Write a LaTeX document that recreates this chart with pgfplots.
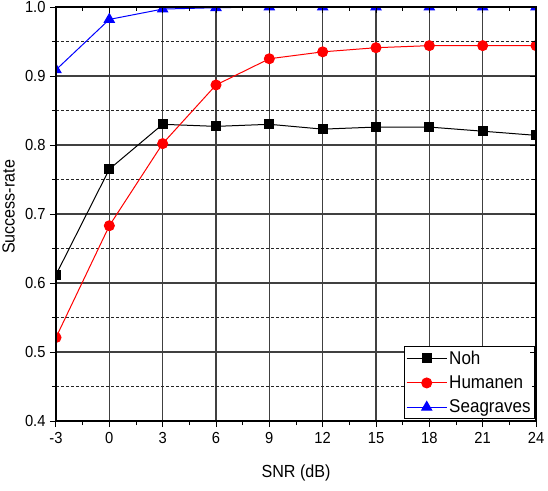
\documentclass[border=0pt]{standalone}
\usepackage{fontspec}
\setmainfont{Liberation Sans}
\newfontfamily\narrowsans{Liberation Sans}[FakeStretch=0.92]
\usepackage{pgfplots}
\pgfplotsset{compat=1.18}

% Success rate against SNR for the three detectors
\newcommand{\tickfont}{\narrowsans\fontsize{16}{18}\selectfont}
\newcommand{\labelfont}{\narrowsans\fontsize{17.5}{20}\selectfont}
\newcommand{\legfont}{\narrowsans\fontsize{18.5}{21}\selectfont}

\pgfplotsset{
  frame/.style={
    scale only axis, width=480pt, height=414pt,
    xmin=-3, xmax=24, ymin=0.4, ymax=1.0,
    xtick={-3,0,3,6,9,12,15,18,21,24},
    ytick={0.4,0.5,0.6,0.7,0.8,0.9,1.0},
    minor x tick num=1, minor y tick num=1,
    axis line style={black, line width=1.3pt},
    major tick style={black, line width=1pt},
    minor tick style={black, line width=1pt},
    major tick length=6pt, minor tick length=4pt,
  }
}

\begin{document}
\begin{tikzpicture}
\begin{axis}[
  frame,
  name=main,
  tick pos=left, tick align=outside,
  xmajorgrids=true, ymajorgrids=true, yminorgrids=true,
  major grid style={black!75, line width=1.3pt},
  minor grid style={black!85, line width=0.6pt, densely dashed},
  /pgf/number format/assume math mode=true,
  yticklabel style={/pgf/number format/fixed, /pgf/number format/fixed zerofill,
    /pgf/number format/precision=1, xshift=-1pt},
  ticklabel style={font=\tickfont},
  xticklabel style={yshift=-2pt},
  xlabel={SNR (dB)},
  ylabel={Success-rate},
  label style={font=\labelfont},
  xlabel style={at={(axis description cs:0.5,-0.126)}, anchor=center},
  ylabel style={at={(axis description cs:-0.099,0.517)}, anchor=center},
  clip marker paths=true,
  legend cell align=left,
  legend style={
    at={(axis description cs:0.998,0.005)}, anchor=south east,
    draw=black, line width=0.9pt, fill=white,
    font=\legfont, inner xsep=2pt, inner ysep=2pt,
    row sep=6pt,
  },
  legend image code/.code={
    \draw[mark repeat=2, mark phase=2] plot coordinates {(0pt,0pt) (20pt,0pt) (40pt,0pt)};
  },
]
\addplot[black, line width=1pt, mark=square*, mark size=4.6pt,
  mark options={solid, fill=black}] coordinates {
  (-3,0.612) (0,0.765) (3,0.830) (6,0.827) (9,0.830)
  (12,0.823) (15,0.826) (18,0.826) (21,0.820) (24,0.814)
};
\addlegendentry{Noh}
\addplot[red, line width=1pt, mark=*, mark size=5pt,
  mark options={solid, fill=red}] coordinates {
  (-3,0.521) (0,0.683) (3,0.802) (6,0.887) (9,0.925)
  (12,0.935) (15,0.941) (18,0.944) (21,0.944) (24,0.944)
};
\addlegendentry{Humanen}
\addplot[blue, line width=1pt, mark=triangle*, mark size=5.8pt,
  mark options={solid, fill=blue}] coordinates {
  (-3,0.909) (0,0.982) (3,0.997) (6,0.999) (9,1.0)
  (12,1.0) (15,1.0) (18,1.0) (21,1.0) (24,1.0)
};
\addlegendentry{Seagraves}
\end{axis}
% mirrored ticks on the top and right edges, pointing inwards
\begin{axis}[
  frame,
  at={(main.south west)}, anchor=south west,
  tick pos=right, tick align=inside,
  xticklabels={}, yticklabels={},
]
\end{axis}
\pgfresetboundingbox
\path[use as bounding box] (main.south west) ++(-56pt,-69pt) rectangle ++(548pt,490pt);
\end{tikzpicture}
\end{document}
